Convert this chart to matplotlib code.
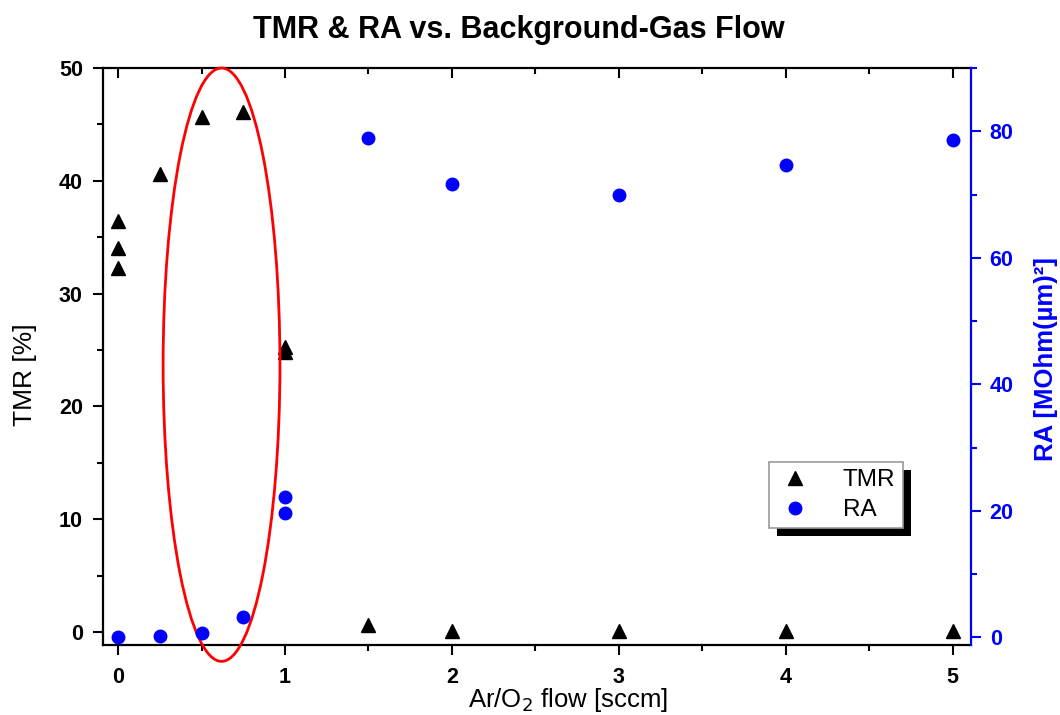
import numpy as np
import matplotlib
matplotlib.use('Agg')
import matplotlib.pyplot as plt
from matplotlib.patches import Ellipse, Rectangle
from matplotlib.ticker import MultipleLocator

plt.rcParams['font.family'] = ['Liberation Sans', 'DejaVu Sans']

# data
tmr_flow = [0, 0, 0, 0.25, 0.5, 0.75, 1, 1, 1.5, 2, 3, 4, 5]
tmr_val = [36.4, 34.0, 32.3, 40.6, 45.7, 46.1, 25.3, 24.8, 0.6, 0.05, 0.05, 0.05, 0.05]

ra_flow = [0, 0.25, 0.5, 0.75, 1, 1, 1.5, 2, 3, 4, 5]
ra_val = [0.0, 0.3, 0.7, 3.2, 22.2, 19.7, 78.9, 71.6, 70.0, 74.6, 78.6]

fig = plt.figure(figsize=(10.6, 7.15), dpi=100)
ax = fig.add_axes([0.0972, 0.0979, 0.9160 - 0.0972, 0.9049 - 0.0979])
ax2 = ax.twinx()

l1, = ax.plot(tmr_flow, tmr_val, '^', color='black', ms=10, ls='none', label='TMR')
l2, = ax2.plot(ra_flow, ra_val, 'o', color='blue', ms=9, ls='none', label='RA')

ax.set_xlim(-0.09, 5.11)
ax.set_ylim(-1.15, 50)
ax2.set_ylim(-1.2, 90)

# highlight ellipse
ell = Ellipse((0.62, 23.7), 0.70, 52.6, fill=False, edgecolor='red', lw=2, clip_on=False, zorder=5)
ax.add_patch(ell)

ax.xaxis.set_major_locator(MultipleLocator(1))
ax.xaxis.set_minor_locator(MultipleLocator(0.5))
ax.yaxis.set_major_locator(MultipleLocator(10))
ax.yaxis.set_minor_locator(MultipleLocator(5))
ax2.yaxis.set_major_locator(MultipleLocator(20))
ax2.yaxis.set_minor_locator(MultipleLocator(10))

for s in ['left', 'bottom', 'top']:
    ax.spines[s].set_linewidth(1.6)
ax.spines['right'].set_visible(False)
ax2.spines['right'].set_color('blue')
ax2.spines['right'].set_linewidth(1.6)
for s in ['left', 'bottom', 'top']:
    ax2.spines[s].set_visible(False)

ax.tick_params(axis='x', which='both', direction='out', top=True, width=1.5)
ax.tick_params(axis='x', which='major', length=7.5, labelsize=15.5, pad=8)
ax.tick_params(axis='x', which='minor', length=4)
ax.tick_params(axis='y', which='both', direction='out', width=1.5)
ax.tick_params(axis='y', which='major', length=7.5, labelsize=15.5, pad=7)
ax.tick_params(axis='y', which='minor', length=4)
# top ticks point inward
for t in ax.xaxis.get_major_ticks() + ax.xaxis.get_minor_ticks():
    t.tick2line.set_marker(3)

ax2.tick_params(axis='y', which='both', direction='out', color='blue', labelcolor='blue', width=1.5)
ax2.tick_params(axis='y', which='major', length=7.5, labelsize=15.5, pad=6)
ax2.tick_params(axis='y', which='minor', length=4)

ax.set_xticks([0, 1, 2, 3, 4, 5])
ax.set_xticklabels(['0', '1', '2', '3', '4', '5'])
for lab in ax.get_xticklabels() + ax.get_yticklabels() + ax2.get_yticklabels():
    lab.set_fontweight('bold')

ax.set_xlabel('Ar/O$_2$ flow [sccm]', fontsize=18.5, va='baseline')
ax.xaxis.set_label_coords(568 / 1060, 1 - 707 / 715, transform=fig.transFigure)
ax.set_ylabel('TMR [%]', fontsize=19, va='center')
ax.yaxis.set_label_coords(25 / 1060, 1 - 375 / 715, transform=fig.transFigure)
ax2.set_ylabel('RA [MOhm(µm)²]', fontsize=18.5, color='blue', fontweight='bold', va='center')
ax2.yaxis.set_label_coords(1046 / 1060, 1 - 359 / 715, transform=fig.transFigure)

fig.suptitle('TMR & RA vs. Background-Gas Flow', fontsize=22, fontweight='bold',
             x=519 / 1060, y=0.979)

leg = ax2.legend(handles=[l1, l2], loc='upper left', bbox_to_anchor=(0.767, 0.317),
                 fancybox=False, edgecolor='#999999', framealpha=1, fontsize=17.5,
                 handlelength=1.6, handletextpad=1.15, borderpad=0.3, labelspacing=0.32,
                 borderaxespad=0)
leg.get_frame().set_linewidth(1.2)
leg.set_zorder(10)

# black drop shadow behind the legend box
fig.canvas.draw()
bb = leg.get_window_extent()
inv = ax2.transAxes.inverted()
(x0, y0) = inv.transform((bb.x0 + 8, bb.y0 - 8))
(x1, y1) = inv.transform((bb.x1 + 8, bb.y1 - 8))
shadow = Rectangle((x0, y0), x1 - x0, y1 - y0, transform=ax2.transAxes,
                   facecolor='black', edgecolor='none', zorder=9)
ax2.add_patch(shadow)

fig.savefig('out.png', dpi=100)
